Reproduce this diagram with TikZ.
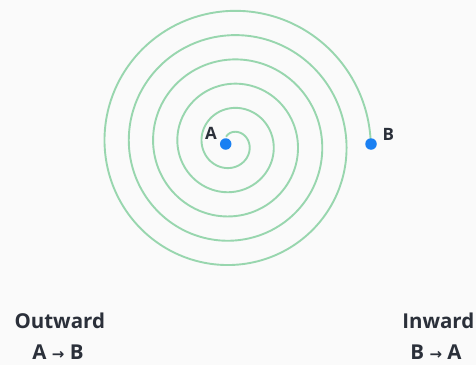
\documentclass[tikz,border=0pt]{standalone}
\usepackage{fontspec}
\setmainfont{Open Sans}
\newfontfamily\arrowfont{DejaVu Sans}
\usepackage{xcolor}
\usetikzlibrary{positioning,calc}
\definecolor{spiralgreen}{HTML}{98D6AE}
\definecolor{dotblue}{HTML}{1A80F2}
\definecolor{inkdark}{HTML}{2B303A}
\definecolor{paper}{HTML}{FAFAFA}
\newcommand{\toarrow}{{\arrowfont\fontsize{15}{15}\selectfont →}}

\begin{document}
\begin{tikzpicture}[
  x=1pt,y=1pt,
  spiral/.style={draw=spiralgreen,line width=1.9pt,line cap=round},
  dot/.style={circle,fill=dotblue,inner sep=0pt,minimum size=11.5pt},
  pointlabel/.style={font=\bfseries\fontsize{17}{17}\selectfont,text=inkdark,
    anchor=base,inner sep=0pt},
  caption/.style={font=\bfseries\fontsize{20.5}{20.5}\selectfont,text=inkdark,
    anchor=base,inner sep=0pt}
]
  \fill[paper] (0,0) rectangle (476,365);
  \useasboundingbox (0,0) rectangle (476,365);
  \coordinate (centre) at (231.6,221);

  % the spiral: r grows by 24.3 per turn, clockwise outward
  \draw[spiral] plot[domain=125:-1800,samples=600,smooth]
    ({231.6+(17.7-24.3*\x/360)*cos(\x)},{221+(17.7-24.3*\x/360)*sin(\x)});

  \node[dot] (A) at (225.7,221) {};
  \node[dot] (B) at (371,221) {};
  \node[pointlabel] (label-A) at (211,226) {A};
  \node[pointlabel] (label-B) at (388.3,224.3) {B};

  \node[caption] (outward) at (59.8,36.7) {Outward};
  \node[caption] (outward-dir) at (58,5.5) {A \toarrow{} B};
  \node[caption] (inward) at (438.3,36.7) {Inward};
  \node[caption] (inward-dir) at (436,5.5) {B \toarrow{} A};
\end{tikzpicture}
\end{document}
